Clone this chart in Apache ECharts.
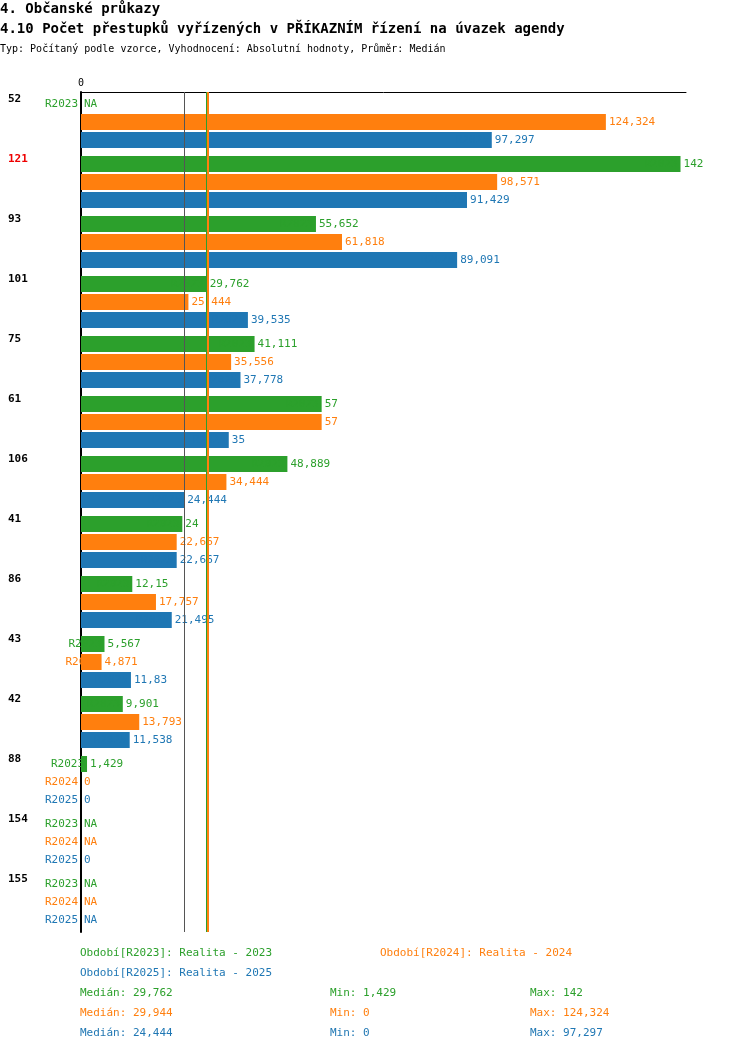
<!DOCTYPE html>
<html>
<head>
<meta charset="utf-8">
<script src="https://cdn.jsdelivr.net/npm/echarts@6/dist/echarts.min.js"></script>
<style>html,body{margin:0;padding:0;background:#fff}#chart{width:750px;height:1052px}</style>
</head>
<body>
<div id="chart"></div>
<script>
var groups = ['52', '121', '93', '101', '75', '61', '106', '41', '86', '43', '42', '88', '154', '155'];
var seriesNames = ['R2023', 'R2024', 'R2025'];
var r2023 = [null, 142, 55.652, 29.762, 41.111, 57, 48.889, 24, 12.15, 5.567, 9.901, 1.429, null, null];
var r2024 = [124.324, 98.571, 61.818, 25.444, 35.556, 57, 34.444, 22.667, 17.757, 4.871, 13.793, 0, null, null];
var r2025 = [97.297, 91.429, 89.091, 39.535, 37.778, 35, 24.444, 22.667, 21.495, 11.83, 11.538, 0, 0, null];
var medians = [29.762, 29.944, 24.444];
var mins = ['1,429', '0', '0'];
var maxs = ['142', '124,324', '97,297'];
var colors = ['#2ca02c', '#ff7f0e', '#1f77b4'];
var font = '"DejaVu Sans Mono", monospace';

var fmt = function (v) { return String(v).replace('.', ','); };

var series = [];
[r2023, r2024, r2025].forEach(function (arr, i) {
    series.push({
        name: seriesNames[i], type: 'bar', stack: 's' + i, barWidth: 16, barGap: '12.5%',
        itemStyle: { color: colors[i] },
        data: arr.map(function (v) { return v === null ? { value: 0, na: true } : v; }),
        label: {
            show: true, position: 'right', distance: 3, color: colors[i],
            fontFamily: font, fontSize: 11,
            formatter: function (p) { return p.data && p.data.na ? 'NA' : fmt(p.value); }
        },
        markLine: {
            silent: true, symbol: 'none', label: { show: false },
            lineStyle: { color: i === 2 ? '#555' : colors[i], width: i === 1 ? 2 : 1, type: 'solid' },
            data: [{ xAxis: medians[i] }]
        },
        z: i === 1 ? 3 : 2
    });
    series.push({
        type: 'bar', stack: 's' + i, barWidth: 16,
        data: arr.map(function () { return 0; }),
        label: {
            show: true, position: 'left', distance: 3, color: colors[i],
            fontFamily: font, fontSize: 11, formatter: seriesNames[i]
        }
    });
});

var graphics = [
    { type: 'text', left: 0, top: 2, style: { text: '4. Občanské průkazy', font: 'bold 14px ' + font, fill: '#000' } },
    { type: 'text', left: 0, top: 22, style: { text: '4.10 Počet přestupků vyřízených v PŘÍKAZNÍM řízení na úvazek agendy', font: 'bold 14px ' + font, fill: '#000' } },
    { type: 'text', left: 0, top: 44, style: { text: 'Typ: Počítaný podle vzorce, Vyhodnocení: Absolutní hodnoty, Průměr: Medián', font: '10px ' + font, fill: '#000' } },
    { type: 'text', left: 80, top: 948, style: { text: 'Období[R2023]: Realita - 2023', font: '11px ' + font, fill: colors[0] } },
    { type: 'text', left: 380, top: 948, style: { text: 'Období[R2024]: Realita - 2024', font: '11px ' + font, fill: colors[1] } },
    { type: 'text', left: 80, top: 968, style: { text: 'Období[R2025]: Realita - 2025', font: '11px ' + font, fill: colors[2] } }
];
for (var i = 0; i < 3; i++) {
    var y = 988 + i * 20;
    graphics.push({ type: 'text', left: 80, top: y, style: { text: 'Medián: ' + fmt(medians[i]), font: '11px ' + font, fill: colors[i] } });
    graphics.push({ type: 'text', left: 330, top: y, style: { text: 'Min: ' + mins[i], font: '11px ' + font, fill: colors[i] } });
    graphics.push({ type: 'text', left: 530, top: y, style: { text: 'Max: ' + maxs[i], font: '11px ' + font, fill: colors[i] } });
}

var chart = echarts.init(document.getElementById('chart'));
chart.setOption({
    animation: false,
    backgroundColor: '#fff',
    grid: { left: 81, right: 64, top: 92, bottom: 120 },
    xAxis: {
        type: 'value', position: 'top', min: 0, max: 143.3, interval: 200,
        axisLine: { show: true, lineStyle: { color: '#000', width: 1 } },
        axisTick: { show: false }, splitLine: { show: false },
        axisLabel: { showMaxLabel: false, color: '#000', fontFamily: font, fontSize: 10, margin: 4 }
    },
    yAxis: {
        type: 'category', inverse: true, data: groups,
        axisLine: { lineStyle: { color: '#000', width: 2 } },
        axisTick: { show: false },
        axisLabel: {
            align: 'left', margin: 73, fontFamily: font, fontSize: 11, fontWeight: 'bold',
            verticalAlign: 'top', padding: [-28, 0, 0, 0],
            color: function (v) { return v === '121' ? '#e00' : '#000'; }
        }
    },
    series: series,
    graphic: graphics
});
</script>
</body>
</html>
